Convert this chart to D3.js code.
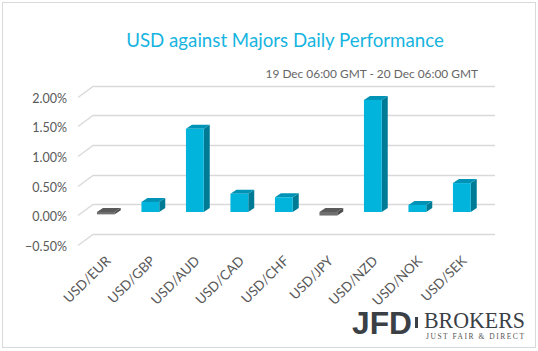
<!DOCTYPE html>
<html>
<head>
<meta charset="utf-8">
<script src="https://cdn.jsdelivr.net/npm/d3@7"></script>
<style>
  body { margin: 0; background: #fff; }
</style>
</head>
<body>
<svg id="chart" width="538" height="351" font-family="Lato, 'Open Sans', sans-serif"></svg>
<script>
// data
const pairs = ['USD/EUR', 'USD/GBP', 'USD/AUD', 'USD/CAD', 'USD/CHF', 'USD/JPY', 'USD/NZD', 'USD/NOK', 'USD/SEK'];
const changes = [-0.04, 0.17, 1.41, 0.31, 0.25, -0.06, 1.90, 0.12, 0.49];
const yTicks = [-0.5, 0, 0.5, 1.0, 1.5, 2.0];

const svg = d3.select('#chart');

// outer frame
svg.append('rect')
    .attr('x', 2.5).attr('y', 2.5)
    .attr('width', 533).attr('height', 345)
    .attr('fill', '#fff')
    .attr('stroke', '#d9d9d9');

svg.append('text')
    .attr('x', 285).attr('y', 47)
    .attr('text-anchor', 'middle')
    .attr('font-size', 18.7)
    .attr('fill', '#16b4e0')
    .text('USD against Majors Daily Performance');

svg.append('text')
    .attr('x', 478).attr('y', 78)
    .attr('text-anchor', 'end')
    .attr('font-size', 11.9)
    .attr('fill', '#666')
    .text('19 Dec 06:00 GMT - 20 Dec 06:00 GMT');

// scales: back wall of the 3d plot
const y = d3.scaleLinear().domain([-0.5, 2]).range([233.5, 86]);
const x = d3.scaleBand().domain(pairs).range([83.6, 484.1]).paddingInner(0.6).paddingOuter(0.3);

const wallDx = 15, wallDy = 11;   // front edge of the floor/wall
const faceDy = 8;                 // front face of bars sits this far below back line
const depthX = 6, depthY = 4;     // visible depth of each bar

// gridlines with slanted front piece
const grid = svg.append('g');
yTicks.forEach(t => {
  const yy = Math.round(y(t)) + 0.5;
  grid.append('path')
      .attr('d', `M${93 - wallDx},${yy + wallDy}L93,${yy}L495,${yy}`)
      .attr('fill', 'none')
      .attr('stroke', '#d9d9d9')
      .attr('stroke-width', 1.3);
  grid.append('text')
      .attr('x', 67).attr('y', yy + wallDy + 1)
      .attr('dy', '0.35em')
      .attr('text-anchor', 'end')
      .attr('font-size', 12.5)
      .attr('fill', '#595959')
      .text(d3.format('.2%')(t / 100));
});

// 3d bars
const bars = svg.append('g').selectAll('g')
    .data(pairs.map((p, i) => ({pair: p, v: changes[i]})))
    .join('g');

const front = d => {
  const y0 = y(0) + faceDy, y1 = y(d.v) + faceDy;
  return {x: x(d.pair), w: x.bandwidth(), top: Math.min(y0, y1), bot: Math.max(y0, y1)};
};
const pos = d => d.v >= 0;

// side face
bars.append('path')
    .attr('d', d => {
      const f = front(d);
      const r = f.x + f.w;
      return `M${r},${f.top}L${r + depthX},${f.top - depthY}L${r + depthX},${f.bot - depthY}L${r},${f.bot}Z`;
    })
    .attr('fill', d => pos(d) ? '#007b96' : '#4d4d4d');

// top face
bars.append('path')
    .attr('d', d => {
      const f = front(d);
      return `M${f.x},${f.top}L${f.x + depthX},${f.top - depthY}L${f.x + f.w + depthX},${f.top - depthY}L${f.x + f.w},${f.top}Z`;
    })
    .attr('fill', d => pos(d) ? '#0093b5' : '#5a5a5a');

// front face
bars.append('rect')
    .attr('x', d => front(d).x)
    .attr('y', d => front(d).top)
    .attr('width', x.bandwidth())
    .attr('height', d => Math.max(1, front(d).bot - front(d).top))
    .attr('fill', d => pos(d) ? '#00b4dc' : '#6f6f6f');

// category labels
svg.append('g').selectAll('text')
    .data(pairs)
    .join('text')
    .attr('transform', d => `translate(${x(d) + x.bandwidth() / 2 - 1},${255}) rotate(-45)`)
    .attr('text-anchor', 'end')
    .attr('dy', '0.7em')
    .attr('font-size', 13.5)
    .attr('fill', '#595959')
    .text(d => d);

// JFD Brokers logo
const logo = svg.append('g');
logo.append('text')
    .attr('x', 352).attr('y', 334)
    .attr('font-family', '"Liberation Sans Narrow", "Liberation Sans", sans-serif')
    .attr('font-weight', 'bold')
    .attr('font-size', 32)
    .attr('textLength', 60)
    .attr('lengthAdjust', 'spacingAndGlyphs')
    .attr('fill', '#3b4046')
    .text('JFD');
logo.append('rect')
    .attr('x', 415).attr('y', 317).attr('width', 3).attr('height', 11)
    .attr('fill', '#3b4046');
logo.append('text')
    .attr('x', 424).attr('y', 327.5)
    .attr('font-family', '"Liberation Serif", serif')
    .attr('font-size', 23)
    .attr('textLength', 101)
    .attr('lengthAdjust', 'spacingAndGlyphs')
    .attr('fill', '#3b4046')
    .text('BROKERS');
logo.append('text')
    .attr('x', 426).attr('y', 338.5)
    .attr('font-family', '"Liberation Serif", serif')
    .attr('font-size', 7.5)
    .attr('textLength', 98)
    .attr('lengthAdjust', 'spacing')
    .attr('fill', '#555')
    .text('JUST FAIR & DIRECT');
</script>
</body>
</html>
